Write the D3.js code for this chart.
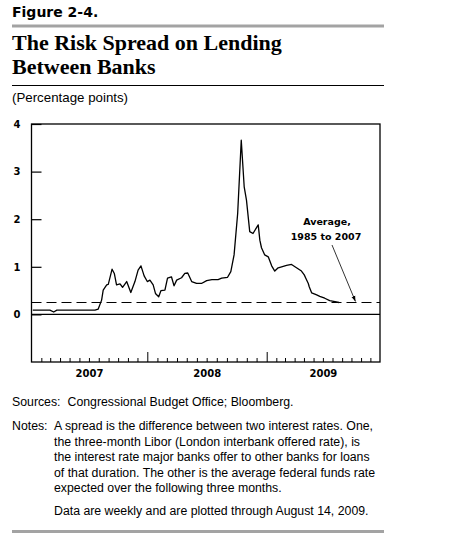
<!DOCTYPE html>
<meta charset="utf-8">
<style>
  body { margin: 0; background: #fff; }
  .sans { font-family: "Liberation Sans", Arial, sans-serif; }
  .bold { font-family: "DejaVu Sans", Verdana, sans-serif; font-weight: bold; }
</style>
<script src="https://cdn.jsdelivr.net/npm/d3@7"></script>
<div id="chart"></div>
<script>
// weekly spread readings (percentage points)
var dates = [
  "2007-01-05", "2007-02-28", "2007-03-12", "2007-03-22", "2007-07-20", "2007-07-30",
  "2007-08-10", "2007-08-15", "2007-08-26", "2007-08-31", "2007-09-12", "2007-09-19",
  "2007-09-26", "2007-10-07", "2007-10-15", "2007-10-28", "2007-11-10", "2007-11-23",
  "2007-12-03", "2007-12-12", "2007-12-22",
  "2008-01-01", "2008-01-09", "2008-01-19", "2008-01-26", "2008-02-05", "2008-02-12",
  "2008-02-24", "2008-03-03", "2008-03-15", "2008-03-23", "2008-03-31", "2008-04-15",
  "2008-04-25", "2008-05-04", "2008-05-16", "2008-05-31", "2008-06-15", "2008-07-01",
  "2008-07-17", "2008-08-05", "2008-08-16", "2008-09-03", "2008-09-13", "2008-09-23",
  "2008-10-04", "2008-10-15", "2008-10-24", "2008-10-31", "2008-11-10", "2008-11-20",
  "2008-12-06", "2008-12-11", "2008-12-16", "2008-12-26",
  "2009-01-06", "2009-01-17", "2009-01-27", "2009-02-07", "2009-02-18", "2009-03-06",
  "2009-03-22", "2009-04-07", "2009-04-23", "2009-05-02", "2009-05-07", "2009-05-15",
  "2009-05-18", "2009-05-26", "2009-06-11", "2009-06-21", "2009-07-07", "2009-07-23",
  "2009-08-09", "2009-08-22"
];
var spread = [
  0.09, 0.09, 0.05, 0.09, 0.09, 0.11,
  0.30, 0.51, 0.62, 0.63, 0.95, 0.86,
  0.62, 0.64, 0.57, 0.69, 0.46, 0.69,
  0.93, 1.02, 0.81,
  0.69, 0.72, 0.62, 0.44, 0.37, 0.50,
  0.51, 0.76, 0.79, 0.60, 0.72, 0.77,
  0.86, 0.87, 0.69, 0.65, 0.65, 0.71,
  0.73, 0.73, 0.76, 0.78, 0.90, 1.25,
  2.12, 3.66, 2.68, 2.40, 1.74, 1.70,
  1.88, 1.56, 1.40, 1.25,
  1.21, 1.02, 0.91, 0.98, 1.00, 1.03,
  1.05, 0.98, 0.91, 0.83, 0.76, 0.65,
  0.58, 0.45, 0.41, 0.38, 0.34, 0.29,
  0.27, 0.25
];
var average = 0.25;
var yTicks = [0, 1, 2, 3, 4];
var yearLabels = ["2007", "2008", "2009"];
var yearStarts = ["2007-01-01", "2008-01-01", "2009-01-01", "2010-01-01"];

var noteLines = [
  "A spread is the difference between two interest rates. One,",
  "the three-month Libor (London interbank offered rate), is",
  "the interest rate major banks offer to other banks for loans",
  "of that duration. The other is the average federal funds rate",
  "expected over the following three months."
];

var parse = d3.timeParse("%Y-%m-%d");
var data = dates.map(function(d, i) { return {date: parse(d), value: spread[i]}; });

var svg = d3.select("#chart")
  .append("svg")
    .attr("width", 474)
    .attr("height", 540);

// header
svg.append("text")
    .attr("class", "bold")
    .attr("x", 12).attr("y", 17)
    .style("font-size", "14px")
    .text("Figure 2-4.");
svg.append("rect")
    .attr("x", 12).attr("y", 24.5).attr("width", 372).attr("height", 3)
    .attr("fill", "#a3a3a3");
svg.append("text")
    .attr("x", 12).attr("y", 50)
    .style("font-family", '"Liberation Serif", "Times New Roman", serif')
    .style("font-weight", "bold")
    .style("font-size", "22px")
  .selectAll("tspan")
  .data(["The Risk Spread on Lending", "Between Banks"])
  .enter().append("tspan")
    .attr("x", 12)
    .attr("dy", function(d, i) { return i ? 24 : 0; })
    .text(function(d) { return d; });
svg.append("line")
    .attr("x1", 12).attr("x2", 384).attr("y1", 85.5).attr("y2", 85.5)
    .attr("stroke", "#000");
svg.append("text")
    .attr("class", "sans")
    .attr("x", 12).attr("y", 102)
    .style("font-size", "13.3px")
    .text("(Percentage points)");

// plot area
var plotLeft = 31.5, plotRight = 380, plotTop = 124, plotBottom = 362;

var x = d3.scaleTime()
  .domain(yearStarts.map(parse))
  .range([plotLeft, 147.3, 266.7, plotRight]);

var y = d3.scaleLinear()
  .domain([-1, 4])
  .range([plotBottom, plotTop]);

var g = svg.append("g");

// minor (monthly) ticks
g.append("g")
    .attr("transform", "translate(0," + plotBottom + ")")
    .call(d3.axisBottom(x)
      .tickValues(d3.timeMonth.range(parse("2007-02-01"), parse("2010-01-01"))
        .filter(function(d) { return d.getMonth() !== 0; }))
      .tickSize(-4)
      .tickFormat(""))
    .call(function(a) { a.select(".domain").remove(); });

// year ticks
g.append("g")
    .attr("transform", "translate(0," + plotBottom + ")")
    .call(d3.axisBottom(x)
      .tickValues([parse("2008-01-01"), parse("2009-01-01")])
      .tickSize(-10)
      .tickFormat(""))
    .call(function(a) { a.select(".domain").remove(); });

// year labels centred in each year
g.append("g")
    .attr("transform", "translate(0," + plotBottom + ")")
    .call(d3.axisBottom(x)
      .tickValues(yearLabels.map(function(d) { return parse(d + "-07-01"); }))
      .tickSize(0)
      .tickPadding(8)
      .tickFormat(d3.timeFormat("%Y")))
    .call(function(a) {
      a.select(".domain").remove();
      a.selectAll("text")
        .attr("class", "bold")
        .style("font-size", "10px")
        .attr("fill", "#000");
    });

// y axis
g.append("g")
    .attr("transform", "translate(" + plotLeft + ",0)")
    .call(d3.axisLeft(y)
      .tickValues(yTicks)
      .tickSize(-10)
      .tickPadding(11)
      .tickFormat(d3.format("d")))
    .call(function(a) {
      a.select(".domain").remove();
      a.selectAll("line").attr("stroke-width", 1.2);
      a.selectAll("text")
        .attr("class", "bold")
        .style("font-size", "10px")
        .attr("fill", "#000");
    });

g.selectAll(".tick line").attr("stroke", "#000");

// zero line and average line
g.append("line")
    .attr("x1", plotLeft).attr("x2", plotRight)
    .attr("y1", y(0)).attr("y2", y(0))
    .attr("stroke", "#000").attr("stroke-width", 1.2);
g.append("line")
    .attr("x1", plotLeft).attr("x2", plotRight)
    .attr("y1", y(average)).attr("y2", y(average))
    .attr("stroke", "#000").attr("stroke-width", 1.2)
    .attr("stroke-dasharray", "10,5");

// frame
g.append("rect")
    .attr("x", plotLeft).attr("y", plotTop)
    .attr("width", plotRight - plotLeft).attr("height", plotBottom - plotTop)
    .attr("fill", "none").attr("stroke", "#000").attr("stroke-width", 1.3);

// spread line
g.append("path")
    .datum(data)
    .attr("fill", "none")
    .attr("stroke", "#000")
    .attr("stroke-width", 1.3)
    .attr("stroke-linejoin", "round")
    .attr("d", d3.line()
      .x(function(d) { return x(d.date); })
      .y(function(d) { return y(d.value); }));

// annotation
svg.append("defs").append("marker")
    .attr("id", "arrow")
    .attr("viewBox", "0 0 10 10")
    .attr("refX", 10).attr("refY", 5)
    .attr("markerWidth", 7).attr("markerHeight", 7)
    .attr("orient", "auto")
  .append("path")
    .attr("d", "M0,1.5L10,5L0,8.5Z")
    .attr("fill", "#000");

g.append("text")
    .attr("class", "bold")
    .attr("text-anchor", "middle")
    .attr("x", 327).attr("y", 225)
    .style("font-size", "9.5px")
    .text("Average,");
g.append("text")
    .attr("class", "bold")
    .attr("text-anchor", "middle")
    .attr("x", 326).attr("y", 240)
    .style("font-size", "9.5px")
    .text("1985 to 2007");
g.append("line")
    .attr("x1", 332).attr("y1", 245)
    .attr("x2", x(parse("2009-10-14"))).attr("y2", y(average) - 1)
    .attr("stroke", "#000").attr("stroke-width", 0.8)
    .attr("marker-end", "url(#arrow)");

// sources and notes
svg.append("text")
    .attr("class", "sans")
    .attr("x", 12).attr("y", 405.5)
    .style("font-size", "12.3px")
    .text("Sources:");
svg.append("text")
    .attr("class", "sans")
    .attr("x", 67.5).attr("y", 405.5)
    .style("font-size", "12.3px")
    .text("Congressional Budget Office; Bloomberg.");
svg.append("text")
    .attr("class", "sans")
    .attr("x", 12).attr("y", 430)
    .style("font-size", "12.3px")
    .text("Notes:");
svg.selectAll(".note")
  .data(noteLines)
  .enter().append("text")
    .attr("class", "sans note")
    .attr("x", 54)
    .attr("y", function(d, i) { return 430 + i * 15.5; })
    .style("font-size", "12.3px")
    .text(function(d) { return d; });
svg.append("text")
    .attr("class", "sans")
    .attr("x", 54).attr("y", 515)
    .style("font-size", "12.3px")
    .text("Data are weekly and are plotted through August 14, 2009.");
svg.append("rect")
    .attr("x", 12).attr("y", 530).attr("width", 372).attr("height", 3)
    .attr("fill", "#a3a3a3");
</script>
